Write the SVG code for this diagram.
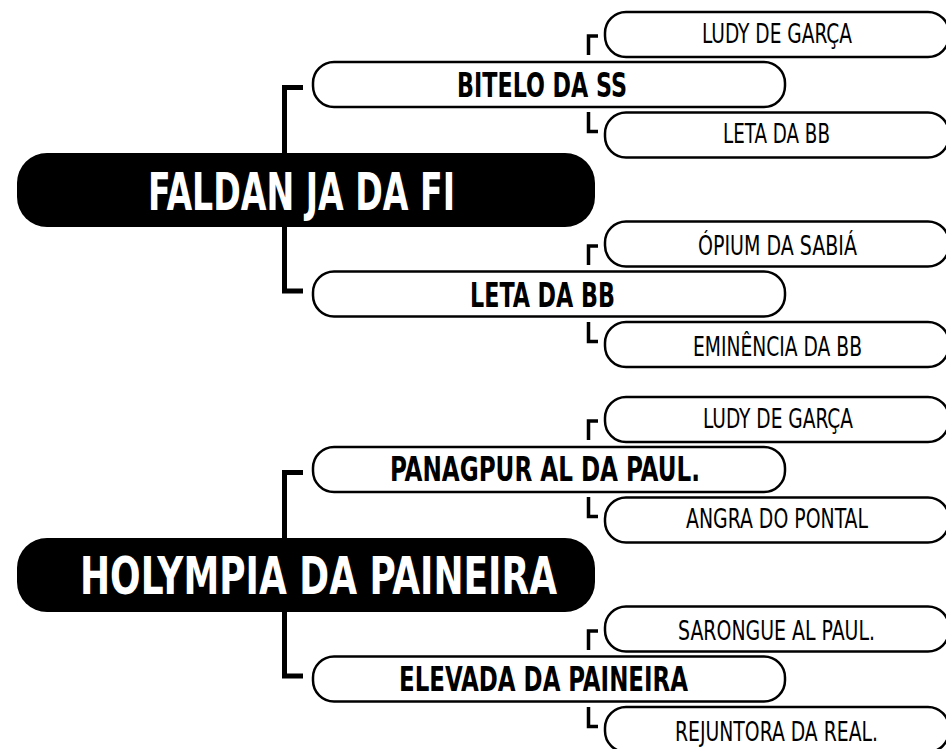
<svg xmlns="http://www.w3.org/2000/svg" width="946" height="749" viewBox="0 0 946 749">
<style>
.root rect{fill:#000}
.root text{fill:#fff;font-family:"DejaVu Sans Condensed","DejaVu Sans",sans-serif;font-stretch:condensed;font-weight:bold;font-size:52px}
.branch rect{fill:#fff;stroke:#000;stroke-width:2.5}
.branch text{fill:#000;font-family:"DejaVu Sans Condensed","DejaVu Sans",sans-serif;font-stretch:condensed;font-weight:bold;font-size:34px}
.leaf rect{fill:#fff;stroke:#000;stroke-width:2.5}
.leaf text{fill:#000;font-family:"DejaVu Sans Condensed","DejaVu Sans",sans-serif;font-stretch:condensed;font-size:26px}
.big{fill:none;stroke:#000;stroke-width:5}
.small{fill:none;stroke:#000;stroke-width:3.5}
</style>
<g id="connectors">
<path class="big" d="M303,87.5 H284.5 V291 H303"/>
<path class="small" d="M598,36 H588.5 V55"/>
<path class="small" d="M588.5,112 V131.5 H598"/>
<path class="small" d="M598,246 H588.5 V265"/>
<path class="small" d="M588.5,322 V341.5 H598"/>
<path class="big" d="M303,472.5 H284.5 V676 H303"/>
<path class="small" d="M598,421 H588.5 V440"/>
<path class="small" d="M588.5,497 V516.5 H598"/>
<path class="small" d="M598,631 H588.5 V650"/>
<path class="small" d="M588.5,707 V726.5 H598"/>
</g>
<g id="root1" class="root"><rect x="17" y="153" width="578" height="74" rx="30"/><text x="148" y="210" textLength="307" lengthAdjust="spacingAndGlyphs">FALDAN JA DA FI</text></g>
<g id="branch1" class="branch"><rect x="313" y="62" width="472" height="45" rx="21"/><text x="457" y="97" textLength="170" lengthAdjust="spacingAndGlyphs">BITELO DA SS</text></g>
<g id="leaf1" class="leaf"><rect x="605" y="12" width="344" height="45" rx="21"/><text x="702" y="43" textLength="150" lengthAdjust="spacingAndGlyphs">LUDY DE GARÇA</text></g>
<g id="leaf2" class="leaf"><rect x="605" y="112.5" width="344" height="45" rx="21"/><text x="723" y="143" textLength="107" lengthAdjust="spacingAndGlyphs">LETA DA BB</text></g>
<g id="branch2" class="branch"><rect x="313" y="271.5" width="472" height="45" rx="21"/><text x="470" y="307" textLength="145" lengthAdjust="spacingAndGlyphs">LETA DA BB</text></g>
<g id="leaf3" class="leaf"><rect x="605" y="221.5" width="344" height="45" rx="21"/><text x="698" y="255" textLength="159" lengthAdjust="spacingAndGlyphs">ÓPIUM DA SABIÁ</text></g>
<g id="leaf4" class="leaf"><rect x="605" y="322" width="344" height="45" rx="21"/><text x="693" y="356" textLength="169" lengthAdjust="spacingAndGlyphs">EMINÊNCIA DA BB</text></g>
<g id="root2" class="root"><rect x="17" y="538" width="578" height="74" rx="30"/><text x="80" y="594" textLength="477" lengthAdjust="spacingAndGlyphs">HOLYMPIA DA PAINEIRA</text></g>
<g id="branch3" class="branch"><rect x="313" y="447" width="472" height="45" rx="21"/><text x="390" y="481" textLength="310" lengthAdjust="spacingAndGlyphs">PANAGPUR AL DA PAUL.</text></g>
<g id="leaf5" class="leaf"><rect x="605" y="397" width="344" height="45" rx="21"/><text x="703" y="428" textLength="150" lengthAdjust="spacingAndGlyphs">LUDY DE GARÇA</text></g>
<g id="leaf6" class="leaf"><rect x="605" y="497.5" width="344" height="45" rx="21"/><text x="686" y="528" textLength="182" lengthAdjust="spacingAndGlyphs">ANGRA DO PONTAL</text></g>
<g id="branch4" class="branch"><rect x="313" y="656.5" width="472" height="45" rx="21"/><text x="399" y="691" textLength="289" lengthAdjust="spacingAndGlyphs">ELEVADA DA PAINEIRA</text></g>
<g id="leaf7" class="leaf"><rect x="605" y="606.5" width="344" height="45" rx="21"/><text x="678" y="640" textLength="197" lengthAdjust="spacingAndGlyphs">SARONGUE AL PAUL.</text></g>
<g id="leaf8" class="leaf"><rect x="605" y="707" width="344" height="45" rx="21"/><text x="675" y="741" textLength="203" lengthAdjust="spacingAndGlyphs">REJUNTORA DA REAL.</text></g>
</svg>
